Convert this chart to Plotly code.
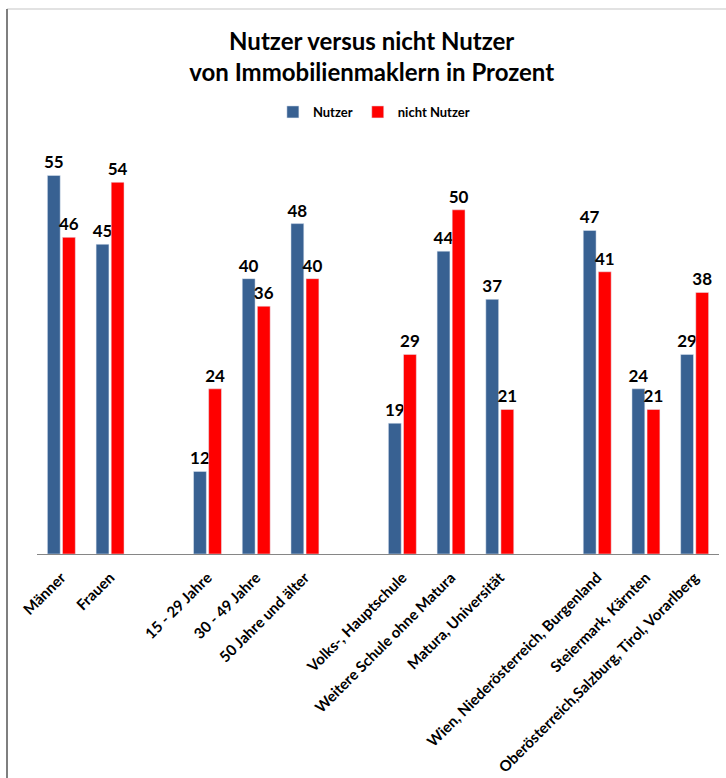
import plotly.graph_objects as go

categories = ["Männer", "Frauen", " ",
              "15 - 29 Jahre", "30 - 49 Jahre", "50 Jahre und älter", "  ",
              "Volks-, Hauptschule", "Weitere Schule ohne Matura", "Matura, Universität", "   ",
              "Wien, Niederösterreich, Burgenland", "Steiermark, Kärnten",
              "Oberösterreich,Salzburg, Tirol, Vorarlberg"]
nutzer = [55, 45, None, 12, 40, 48, None, 19, 44, 37, None, 47, 24, 29]
nicht_nutzer = [46, 54, None, 24, 36, 40, None, 29, 50, 21, None, 41, 21, 38]

BLUE = "#386192"
RED = "#FF0000"
FONT = "Lato"

def labels(vals):
    return ["" if v is None else str(v) for v in vals]

fig = go.Figure()
for name, vals, col in [("Nutzer", nutzer, BLUE), ("nicht Nutzer", nicht_nutzer, RED)]:
    fig.add_trace(go.Bar(x=categories, y=vals, name=name, marker_color=col,
                         text=labels(vals), textposition="outside", cliponaxis=False,
                         constraintext="none",
                         textfont=dict(family=FONT, size=17, color="#000000", weight="bold")))

L, R, T, B = 37, 7, 141, 224
W, H = 726, 778
pw, ph = W - L - R, H - T - B

def px_x(px):
    return (px - L) / pw

def px_y(py):
    return (H - B - py) / ph

fig.update_layout(
    width=W, height=H,
    margin=dict(l=L, r=R, t=T, b=B, autoexpand=False),
    paper_bgcolor="white", plot_bgcolor="white",
    barmode="group", bargap=0.38, bargroupgap=0.15,
    title=dict(text="Nutzer versus nicht Nutzer<br>von Immobilienmaklern in Prozent",
               x=0.512, xanchor="center", xref="container",
               y=1 - 50 / H, yanchor="top", yref="container",
               font=dict(family=FONT, size=24, color="#000000", weight="bold")),
    legend=dict(orientation="h", x=0.515, xanchor="center", xref="container",
                y=px_y(112), yanchor="middle",
                font=dict(family=FONT, size=13, color="#000000", weight="bold"),
                itemwidth=30, traceorder="normal"),
    xaxis=dict(type="category", categoryorder="array", categoryarray=categories,
               tickangle=-45, showline=True, linecolor="#868686", linewidth=1,
               ticks="", showgrid=False, zeroline=False, ticklabelstandoff=8,
               tickfont=dict(family=FONT, size=15, color="#000000", weight="bold")),
    yaxis=dict(range=[0, 60], visible=False, showgrid=False, zeroline=False),
    shapes=[
        dict(type="line", xref="paper", yref="paper",
             x0=px_x(7), x1=px_x(726), y0=px_y(9), y1=px_y(9),
             line=dict(color="#D9D9D9", width=1.5)),
        dict(type="line", xref="paper", yref="paper",
             x0=px_x(7), x1=px_x(7), y0=px_y(9), y1=px_y(778),
             line=dict(color="#7F7F7F", width=2)),
    ],
)

fig.write_html("out.html")
